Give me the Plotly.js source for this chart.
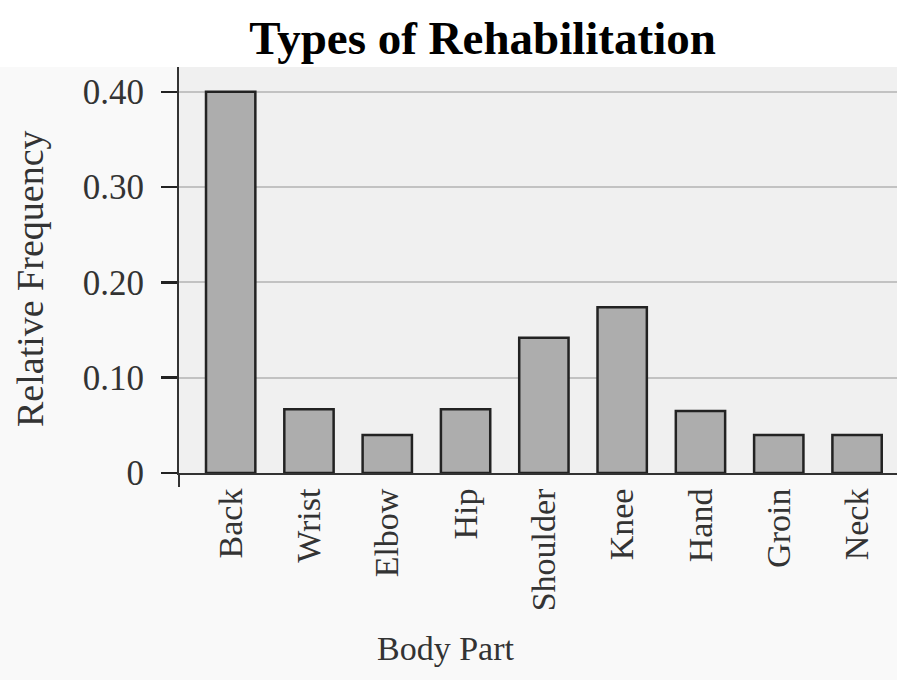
<!DOCTYPE html>
<html>
<head>
<meta charset="utf-8">
<script src="https://cdn.plot.ly/plotly-3.0.1.min.js"></script>
<style>html,body{margin:0;padding:0;background:#f9f9f9;}#chart{width:897px;height:680px;}</style>
</head>
<body>
<div id="chart"></div>
<script>
const bodyParts = ["Back", "Wrist", "Elbow", "Hip", "Shoulder", "Knee", "Hand", "Groin", "Neck"];
const relFreq = [0.40, 0.067, 0.040, 0.067, 0.142, 0.174, 0.065, 0.040, 0.040];
const yTickVals = [0, 0.10, 0.20, 0.30, 0.40];
const yTickText = ["0", "0.10", "0.20", "0.30", "0.40"];

const serif = "Liberation Serif, Times New Roman, serif";

const trace = {
  type: "bar",
  x: bodyParts,
  y: relFreq,
  marker: { color: "#adadad", line: { color: "#222222", width: 2.5 } },
  hoverinfo: "x+y"
};

const layout = {
  width: 897,
  height: 680,
  margin: { l: 179, r: 0, t: 67, b: 207 },
  paper_bgcolor: "#f9f9f9",
  plot_bgcolor: "#f0f0f0",
  bargap: 0.37,
  showlegend: false,
  title: {
    text: "<b>Types of Rehabilitation</b>",
    font: { family: serif, size: 47, color: "#000" },
    xref: "container", x: 0.538, xanchor: "center",
    yref: "container", y: 0.945, yanchor: "middle"
  },
  xaxis: {
    range: [-0.66, 8.51],
    tickangle: -90,
    ticks: "outside", ticklen: 0, tickcolor: "rgba(0,0,0,0)",
    tickfont: { family: serif, size: 34, color: "#333" },
    showgrid: false, zeroline: false,
    showline: true, linecolor: "#333", linewidth: 2
  },
  yaxis: {
    range: [0, 0.426],
    tickvals: yTickVals,
    ticktext: yTickText,
    ticks: "outside", ticklen: 16, tickwidth: 2.5, tickcolor: "#222",
    ticklabelstandoff: 10,
    tickfont: { family: serif, size: 35, color: "#333" },
    showgrid: true, gridcolor: "#c2c2c2", gridwidth: 2,
    zeroline: false,
    showline: true, linecolor: "#333", linewidth: 2
  },
  annotations: [
    { text: "Body Part", xref: "paper", yref: "paper", x: (446 - 179) / 718, y: (473 - 648) / 406,
      xanchor: "center", yanchor: "middle", showarrow: false,
      font: { family: serif, size: 34, color: "#333" } },
    { text: "Relative Frequency", xref: "paper", yref: "paper", x: (30 - 179) / 718, y: (473 - 279) / 406,
      xanchor: "center", yanchor: "middle", showarrow: false, textangle: -90,
      font: { family: serif, size: 38, color: "#333" } }
  ],
  shapes: [
    { type: "rect", xref: "paper", yref: "paper", x0: -0.3, x1: 1.01, y0: 1.0, y1: 1.2,
      fillcolor: "#ffffff", line: { width: 0 }, layer: "below" },
    { type: "line", xref: "paper", yref: "paper", x0: 0, x1: 0, y0: 0, y1: -14 / 406,
      line: { color: "#333", width: 2 } }
  ]
};

Plotly.newPlot("chart", [trace], layout, { displayModeBar: false, staticPlot: true });
</script>
</body>
</html>
